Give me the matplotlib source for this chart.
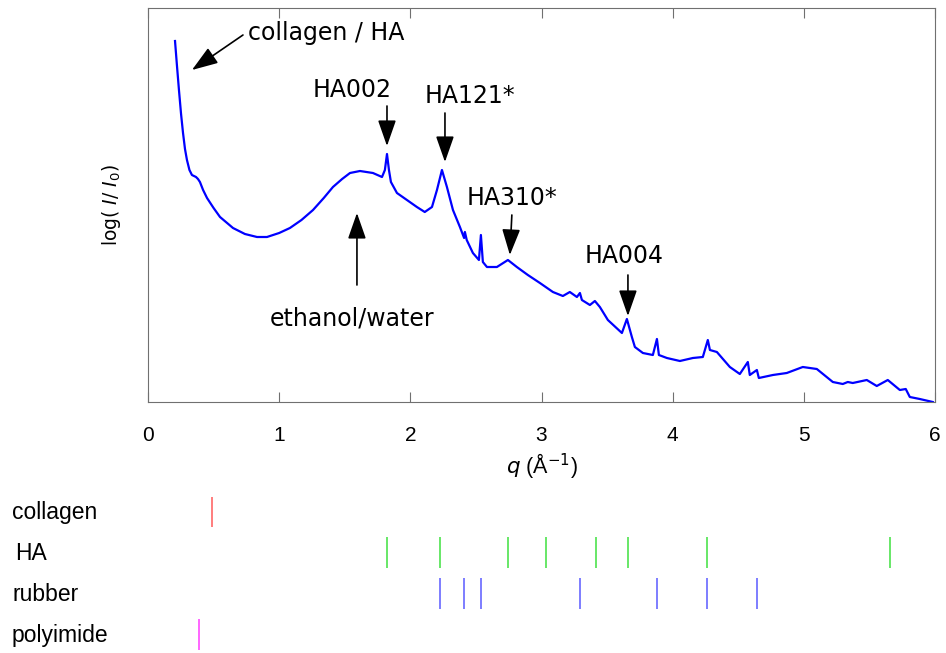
import matplotlib
matplotlib.use("Agg")
import matplotlib.pyplot as plt

# courbe : q (1/Å) et log(I/I0) en unités arbitraires
q = [0.206, 0.221, 0.236, 0.252, 0.267, 0.282, 0.297, 0.316, 0.335, 0.366, 0.381, 0.396,
     0.420, 0.450, 0.500, 0.549, 0.648, 0.739, 0.831,
     0.907, 1.000, 1.082, 1.170, 1.258, 1.34, 1.41, 1.48, 1.54, 1.616, 1.715, 1.784, 1.806,
     1.822, 1.837, 1.852,
     1.898, 1.974, 2.05, 2.11, 2.165, 2.203, 2.241, 2.279, 2.325, 2.378, 2.41, 2.416,
     2.43, 2.477, 2.523, 2.538, 2.553, 2.584, 2.66, 2.744, 2.812, 2.896, 2.988, 3.087,
     3.163, 3.216, 3.27, 3.293, 3.308, 3.369, 3.407, 3.445, 3.506, 3.613, 3.651, 3.689,
     3.712, 3.773, 3.849, 3.88, 3.895, 3.956, 4.055, 4.154, 4.23, 4.268, 4.284, 4.337,
     4.436, 4.512, 4.573, 4.588, 4.642, 4.657, 4.764, 4.870, 4.992, 5.099, 5.221, 5.297,
     5.335, 5.373, 5.48, 5.556, 5.64, 5.732, 5.777, 5.808, 5.884, 5.983]
logI = [3.61, 3.36, 3.12, 2.88, 2.69, 2.53, 2.42, 2.32, 2.27, 2.25, 2.23, 2.20,
        2.12, 2.04, 1.94, 1.85, 1.74, 1.68, 1.65,
        1.65, 1.69, 1.74, 1.82, 1.92, 2.04, 2.15, 2.23, 2.29, 2.31, 2.29, 2.25, 2.32,
        2.48, 2.32, 2.20,
        2.09, 2.02, 1.95, 1.90, 1.95, 2.12, 2.32, 2.15, 1.92, 1.75, 1.64, 1.70,
        1.62, 1.49, 1.42, 1.67, 1.40, 1.35, 1.35, 1.42, 1.35, 1.27, 1.19, 1.10,
        1.06, 1.10, 1.05, 1.09, 1.02, 0.97, 1.01, 0.95, 0.82, 0.69, 0.83, 0.65,
        0.55, 0.49, 0.47, 0.63, 0.47, 0.44, 0.41, 0.44, 0.45, 0.62, 0.52, 0.50,
        0.35, 0.28, 0.40, 0.27, 0.32, 0.24, 0.27, 0.29, 0.35, 0.33, 0.20, 0.18,
        0.20, 0.19, 0.22, 0.16, 0.22, 0.12, 0.13, 0.05, 0.03, 0.00]

# positions de référence des pics
materiaux = ["collagen", "HA", "rubber", "polyimide"]
couleurs = ["#ff5a5a", "#3ee03e", "#5a5aff", "#ff3cff"]
pics = [
    [0.488],
    [1.82, 2.226, 2.744, 3.034, 3.415, 3.659, 4.26, 5.655],
    [2.226, 2.41, 2.538, 3.293, 3.88, 4.26, 4.642],
    [0.389],
]

# annotations : texte, position du texte, queue et tête de flèche
etiquettes = ["collagen / HA", "HA002", "HA121*", "HA310*", "HA004", "ethanol/water"]
pos_texte = [(0.762, 3.69), (1.555, 3.12), (2.454, 3.06), (2.774, 2.04), (3.628, 1.46), (1.555, 0.84)]
queues = [(0.724, 3.67), (1.822, 2.96), (2.264, 2.89), (2.774, 1.87), (3.659, 1.27), (1.593, 1.17)]
tetes = [(0.335, 3.32), (1.822, 2.56), (2.264, 2.40), (2.759, 1.47), (3.659, 0.86), (1.593, 1.89)]

W, H = 946, 653
fig = plt.figure(figsize=(W / 100, H / 100), dpi=100)
ax = fig.add_axes([148 / W, 1 - 402 / H, 787 / W, 394 / H])

ax.plot(q, logI, color="#0000ff", lw=1.6)
ax.set_xlim(0, 6)
ax.set_ylim(0, 3.94)
ax.set_yticks([])
ax.set_xticks(range(7))
ax.tick_params(axis="x", direction="in", length=7, top=True, color="#707070",
               labelsize=15, pad=17)
for lab in ax.get_xticklabels():
    lab.set_family("Liberation Sans")
for s in ax.spines.values():
    s.set_color("#707070")

ax.set_xlabel(r"$q$ (Å$^{-1}$)", fontsize=15.5, family="Liberation Sans", labelpad=5)
ax.set_ylabel(r"log( $\mathit{I}$/ $\mathit{I}_0$)", fontsize=13.5, labelpad=18)

for i, txt in enumerate(etiquettes):
    ha = "left" if i == 0 else "center"
    ax.text(pos_texte[i][0], pos_texte[i][1], txt, fontsize=17, ha=ha, va="center")
    ax.annotate("", xy=tetes[i], xytext=queues[i],
                arrowprops=dict(arrowstyle="-|>,head_length=0.8,head_width=0.28", lw=1.2,
                                color="k", shrinkA=0, shrinkB=0, mutation_scale=20))

# panneau du bas avec les raies de référence
ax2 = fig.add_axes([148 / W, 0, 787 / W, 163 / H])
ax2.set_xlim(0, 6)
ax2.set_ylim(3.46, -0.54)
ax2.axis("off")
for i, nom in enumerate(materiaux):
    ax2.vlines(pics[i], i - 0.38, i + 0.38, color=couleurs[i], lw=1.1)
    fig.text(12 / W if nom != "HA" else 15 / W, 1 - (513 + 40.7 * i) / H, nom,
             fontsize=16.5, va="center", family="Liberation Sans")

fig.savefig("out.png", dpi=100)
